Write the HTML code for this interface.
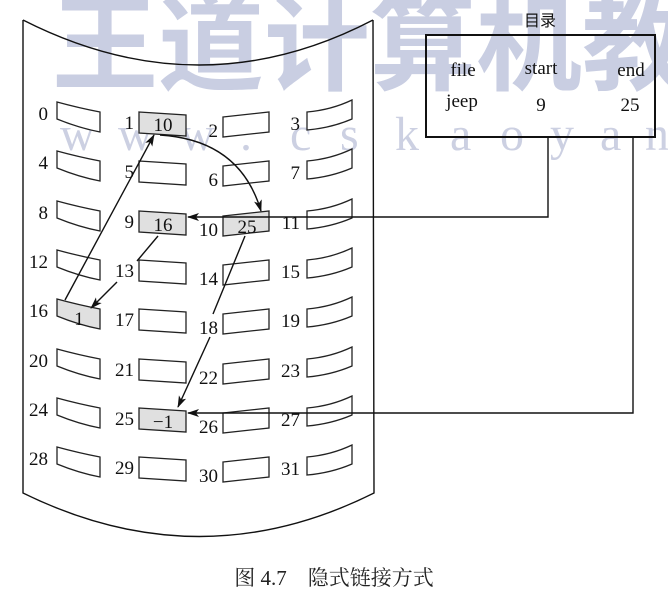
<!DOCTYPE html>
<html><head><meta charset="utf-8"><style>
html,body{margin:0;padding:0;background:#fff;}
svg{display:block;}
text{font-family:"Liberation Serif","Noto Serif CJK SC",serif;font-size:19px;fill:#111;}
.b{fill:#fff;stroke:#222;stroke-width:1.3;}
.g{fill:#e0e0e0;stroke:#222;stroke-width:1.3;}
.l{stroke:#111;stroke-width:1.4;fill:none;}
</style></head><body>
<svg width="668" height="607" viewBox="0 0 668 607" xmlns="http://www.w3.org/2000/svg">
<defs>
<marker id="a" markerWidth="12" markerHeight="8" refX="11" refY="4" orient="auto" markerUnits="userSpaceOnUse">
<path d="M0,0 L12,4 L0,8 L3,4 Z" fill="#111"/></marker>
<path id="c0" d="M0 0 Q22 6 43 10 L43 30 Q22 26 0 17 Z"/>
<path id="c1" d="M0 0 L47 3 L47 24 L0 21 Z"/>
<path id="c2" d="M0 5 L46 0 L46 20 L0 25 Z"/>
<path id="c3" d="M0 10 Q24 8 45 -2 L45 17 Q24 26 0 28 Z"/>
</defs>
<!-- watermark -->
<text x="52" y="82" style="font-family:'Noto Sans CJK SC',sans-serif;font-size:106px;font-weight:bold;fill:#c9cee2">王道计算机教</text>
<text y="150" x="60 118 180 240 290 340 395 450 500 550 600 645" style="font-size:48px;fill:#ccd0e2">www.cskaoyan</text>
<!-- disk -->
<path d="M23 20 Q200 110 373 20" class="l" stroke-width="2"/>
<path d="M23 20 L23 493 Q200 580 374 493 L373 20" class="l" stroke-width="2"/>
<!-- directory -->
<text x="540" y="26" text-anchor="middle" style="font-family:'Noto Sans CJK SC',sans-serif;font-size:16px">目录</text>
<rect x="426" y="35" width="229" height="102" fill="none" stroke="#111" stroke-width="2"/>
<text x="463" y="76" text-anchor="middle">file</text>
<text x="541" y="74" text-anchor="middle">start</text>
<text x="631" y="76" text-anchor="middle">end</text>
<text x="462" y="107" text-anchor="middle">jeep</text>
<text x="541" y="111" text-anchor="middle">9</text>
<text x="630" y="111" text-anchor="middle">25</text>
<!-- boxes -->
<g>
<use href="#c0" x="57" y="102" class="b"/><use href="#c1" x="139" y="112" class="g"/><use href="#c2" x="223" y="112" class="b"/><use href="#c3" x="307" y="102" class="b"/>
<use href="#c0" x="57" y="151" class="b"/><use href="#c1" x="139" y="161" class="b"/><use href="#c2" x="223" y="161" class="b"/><use href="#c3" x="307" y="151" class="b"/>
<use href="#c0" x="57" y="201" class="b"/><use href="#c1" x="139" y="211" class="g"/><use href="#c2" x="223" y="211" class="g"/><use href="#c3" x="307" y="201" class="b"/>
<use href="#c0" x="57" y="250" class="b"/><use href="#c1" x="139" y="260" class="b"/><use href="#c2" x="223" y="260" class="b"/><use href="#c3" x="307" y="250" class="b"/>
<use href="#c0" x="57" y="299" class="g"/><use href="#c1" x="139" y="309" class="b"/><use href="#c2" x="223" y="309" class="b"/><use href="#c3" x="307" y="299" class="b"/>
<use href="#c0" x="57" y="349" class="b"/><use href="#c1" x="139" y="359" class="b"/><use href="#c2" x="223" y="359" class="b"/><use href="#c3" x="307" y="349" class="b"/>
<use href="#c0" x="57" y="398" class="b"/><use href="#c1" x="139" y="408" class="g"/><use href="#c2" x="223" y="408" class="b"/><use href="#c3" x="307" y="398" class="b"/>
<use href="#c0" x="57" y="447" class="b"/><use href="#c1" x="139" y="457" class="b"/><use href="#c2" x="223" y="457" class="b"/><use href="#c3" x="307" y="447" class="b"/>
</g>
<!-- box values -->
<text x="163" y="131" text-anchor="middle">10</text>
<text x="163" y="231" text-anchor="middle">16</text>
<text x="247" y="233" text-anchor="middle">25</text>
<text x="79" y="325" text-anchor="middle">1</text>
<text x="163" y="428" text-anchor="middle">−1</text>
<!-- labels -->
<g text-anchor="end">
<text x="48" y="120">0</text><text x="134" y="129">1</text><text x="218" y="137">2</text><text x="300" y="130">3</text>
<text x="48" y="169">4</text><text x="134" y="178">5</text><text x="218" y="186">6</text><text x="300" y="179">7</text>
<text x="48" y="219">8</text><text x="134" y="228">9</text><text x="218" y="236">10</text><text x="300" y="229">11</text>
<text x="48" y="268">12</text><text x="134" y="277">13</text><text x="218" y="285">14</text><text x="300" y="278">15</text>
<text x="48" y="317">16</text><text x="134" y="326">17</text><text x="218" y="334">18</text><text x="300" y="327">19</text>
<text x="48" y="367">20</text><text x="134" y="376">21</text><text x="218" y="384">22</text><text x="300" y="377">23</text>
<text x="48" y="416">24</text><text x="134" y="425">25</text><text x="218" y="433">26</text><text x="300" y="426">27</text>
<text x="48" y="465">28</text><text x="134" y="474">29</text><text x="218" y="482">30</text><text x="300" y="475">31</text>
</g>
<!-- connectors -->
<path d="M548 137 L548 217 L188 217" class="l" marker-end="url(#a)"/>
<path d="M633 137 L633 413 L188 413" class="l" marker-end="url(#a)"/>
<path d="M65 300 L154 135" class="l" marker-end="url(#a)"/>
<path d="M160 135 Q240 140 261 211" class="l" marker-end="url(#a)"/>
<path d="M158 236 L137 261" class="l"/>
<path d="M117 282 L91 308" class="l" marker-end="url(#a)"/>
<path d="M245 236 L213 314" class="l"/>
<path d="M210 337 L178 407" class="l" marker-end="url(#a)"/>
<!-- caption -->
<text x="334" y="585" text-anchor="middle" style="font-family:'Liberation Serif','Noto Serif CJK SC',serif;font-size:21px;fill:#222">图 4.7　隐式链接方式</text>
</svg>
</body></html>
